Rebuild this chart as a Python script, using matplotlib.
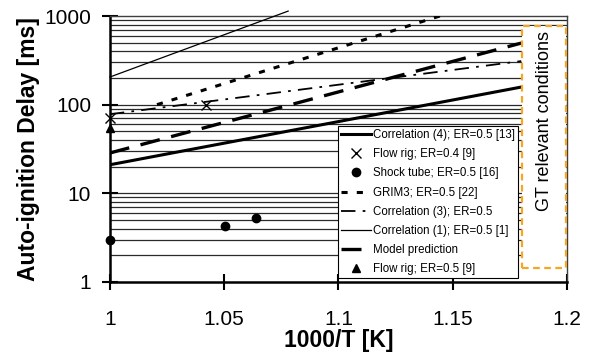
import numpy as np
import matplotlib.pyplot as plt
from matplotlib.patches import Rectangle

plt.rcParams['font.family'] = ['Liberation Sans', 'DejaVu Sans']

# Data
corr4_x = [1.0, 1.18]
corr4_y = [21, 158]

flow04_x = [1.0, 1.042]
flow04_y = [71, 100]

shock_x = [1.0, 1.0503, 1.064]
shock_y = [2.97, 4.28, 5.27]

grim3_x = [1.0206, 1.1444]
grim3_y = [100, 1000]

corr3_x = [1.0, 1.18]
corr3_y = [78, 310]

corr1_x = [1.0, 1.078]
corr1_y = [205, 1136]

model_x = [1.0, 1.18]
model_y = [28.5, 495]

flow05_x = [1.0]
flow05_y = [54.5]

gt_box = (1.1805, 1.44, 1.1995, 770)  # x0, y0, x1, y1

fig = plt.figure(figsize=(5.94, 3.54), dpi=100)
ax = fig.add_axes([0.185, 0.2034, 0.7695, 0.7514])

ax.set_yscale('log')
ax.set_xlim(1.0, 1.2)
ax.set_ylim(1, 1000)

# horizontal gridlines (major + minor)
for dec in [1, 10, 100]:
    for m in range(1, 10):
        v = dec * m
        if v == 1:
            continue
        ax.axhline(v, color='#2a2a2a', lw=0.9, zorder=0)

ax.plot(corr4_x, corr4_y, color='black', lw=2.2, label='Correlation (4); ER=0.5 [13]', zorder=3)
ax.plot(flow04_x, flow04_y, 'x', color='black', ms=7, mew=1.0, ls='none',
        label='Flow rig; ER=0.4 [9]', clip_on=False, zorder=5)
ax.plot(shock_x, shock_y, 'o', color='black', ms=6, ls='none',
        label='Shock tube; ER=0.5 [16]', clip_on=False, zorder=5)
ax.plot(grim3_x, grim3_y, color='black', lw=2.2, dashes=(2.0, 3.0),
        label='GRIM3; ER=0.5 [22]', zorder=3)
ax.plot(corr3_x, corr3_y, color='black', lw=1.3, dashes=(8, 4, 1.5, 4),
        label='Correlation (3); ER=0.5', zorder=3)
ax.plot(corr1_x, corr1_y, color='black', lw=0.9, label='Correlation (1); ER=0.5 [1]',
        clip_on=False, zorder=3)
ax.plot(model_x, model_y, color='black', lw=2.4, dashes=(6, 3.5),
        label='Model prediction', zorder=3)
ax.plot(flow05_x, flow05_y, '^', color='black', ms=6, ls='none',
        label='Flow rig; ER=0.5 [9]', clip_on=False, zorder=5)

# GT relevant conditions box
rect = Rectangle((gt_box[0], gt_box[1]), gt_box[2] - gt_box[0], gt_box[3] - gt_box[1],
                 facecolor='white', edgecolor='#f5a623', lw=1.6, ls=(0, (3, 2)), zorder=4)
ax.add_patch(rect)
ax.text((gt_box[0] + gt_box[2]) / 2, 65, 'GT relevant conditions', rotation=90,
        ha='center', va='center', fontsize=13, zorder=6)

leg = ax.legend(loc='lower left', bbox_to_anchor=(0.5, 0.015), fontsize=8.3,
                frameon=True, fancybox=False, framealpha=1, edgecolor='black',
                handlelength=2.6, handletextpad=0.15, labelspacing=0.62,
                borderpad=0.25, borderaxespad=0)
leg.get_frame().set_linewidth(0.8)
leg.set_zorder(7)

ax.set_xticks([1.0, 1.05, 1.1, 1.15, 1.2])
ax.set_xticklabels(['1', '1.05', '1.1', '1.15', '1.2'])
ax.set_yticks([1, 10, 100, 1000])
ax.set_yticklabels(['1', '10', '100', '1000'])
ax.yaxis.set_minor_locator(plt.NullLocator())
ax.tick_params(axis='both', which='major', direction='inout', length=11, width=1.5,
               labelsize=15)
ax.tick_params(axis='y', pad=8)
ax.tick_params(axis='x', pad=15)

for s in ['left', 'bottom']:
    ax.spines[s].set_linewidth(1.8)
    ax.spines[s].set_color('black')
for s in ['top', 'right']:
    ax.spines[s].set_linewidth(1.0)
    ax.spines[s].set_color('#404040')

ax.set_xlabel('1000/T [K]', fontsize=16.5, fontweight='bold', labelpad=0)
ax.set_ylabel('Auto-ignition Delay [ms]', fontsize=16.5, fontweight='bold', labelpad=3)

fig.savefig('out.png', dpi=100)
